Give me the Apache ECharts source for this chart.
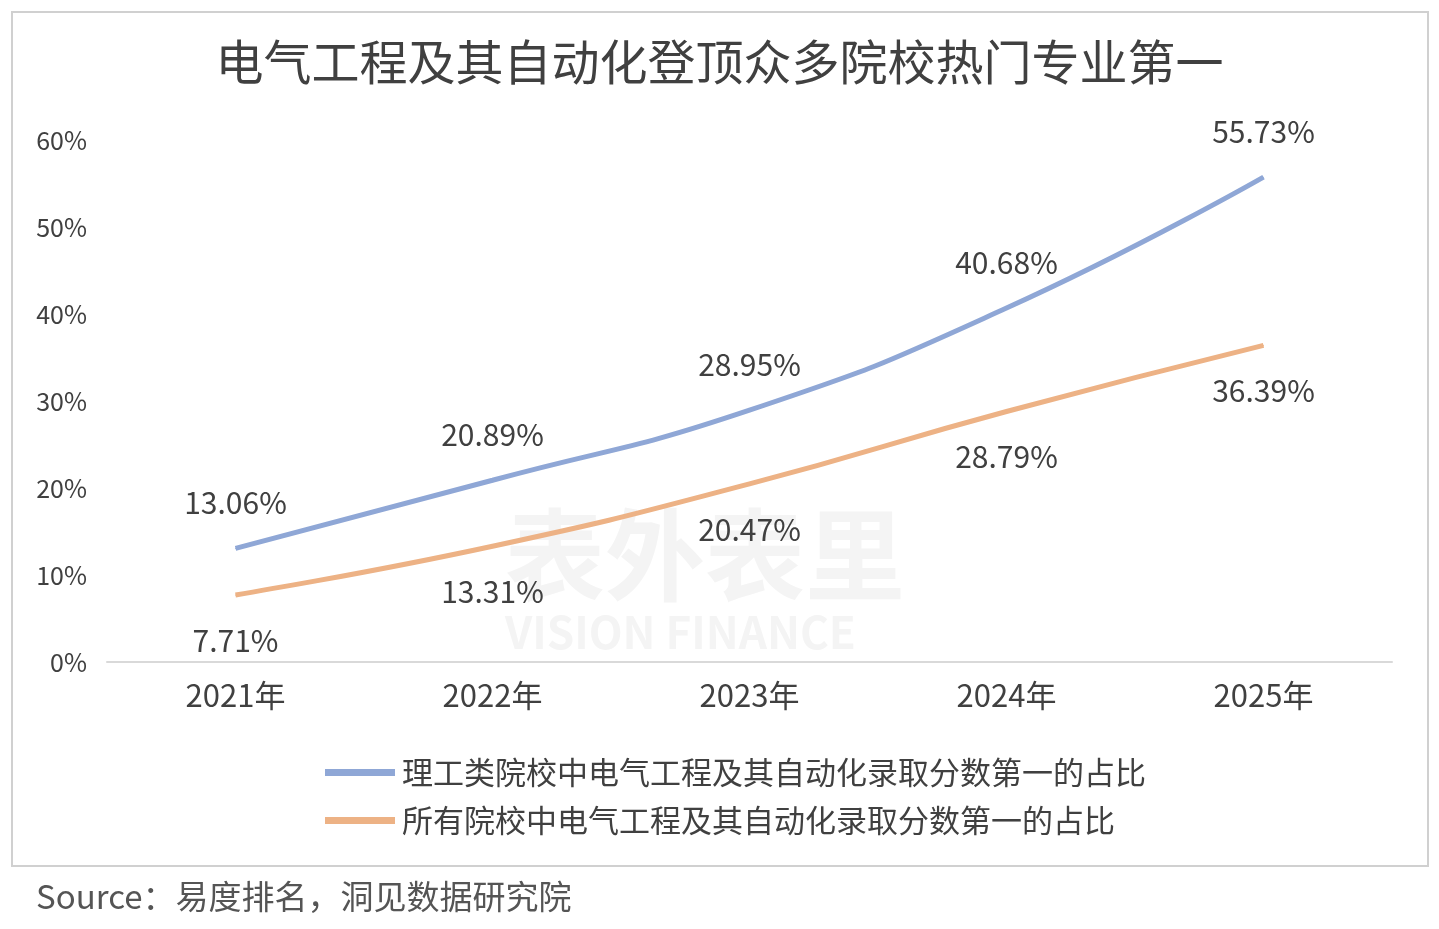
<!DOCTYPE html>
<html><head><meta charset="utf-8">
<script src="https://cdn.jsdelivr.net/npm/echarts@6/dist/echarts.min.js"></script>
<style>html,body{margin:0;padding:0;background:#fff}#c{width:1439px;height:929px}</style>
</head><body><div id="c"></div>
<script>
const categories = ['2021年','2022年','2023年','2024年','2025年'];
const engSchools = [13.06, 20.89, 28.95, 40.68, 55.73];
const allSchools = [7.71, 13.31, 20.47, 28.79, 36.39];
const seriesNames = ['理工类院校中电气工程及其自动化录取分数第一的占比','所有院校中电气工程及其自动化录取分数第一的占比'];
const yTicks = [0,10,20,30,40,50,60];
const titleText = '电气工程及其自动化登顶众多院校热门专业第一';
const sourceText = 'Source：易度排名，洞见数据研究院';

const font = '"Noto Sans CJK SC", "Liberation Sans", sans-serif';
const chart = echarts.init(document.getElementById('c'));
chart.setOption({
  backgroundColor:'#fff',
  animation:false,
  textStyle:{fontFamily:font},
  title:{text:titleText,left:'center',top:33,textStyle:{fontSize:48,fontWeight:'normal',color:'#404040',fontFamily:font}},
  graphic:[
    {type:'rect',shape:{x:12,y:12,width:1416,height:854},style:{fill:'none',stroke:'#d0d0d0',lineWidth:2},z:-1},
    {type:'text',left:36,top:880,style:{text:sourceText,fontSize:33,fill:'#555',fontFamily:font}},
    {type:'text',left:505,top:505,z:-1,style:{text:'表外表里',fontSize:100,fontWeight:'bold',fill:'#f4f4f4',fontFamily:font}},
    {type:'text',left:505,top:610,z:-1,style:{text:'VISION FINANCE',fontSize:44,fontWeight:'bold',fill:'#f4f4f4',fontFamily:font}}
  ],
  grid:{left:107,right:47,top:140,bottom:267,containLabel:false},
  legend:{
    orient:'vertical',left:320,top:752,itemGap:17,itemWidth:70,itemHeight:7,
    icon:'rect',
    textStyle:{fontSize:31,color:'#404040',fontFamily:font,padding:[0,0,0,2]},
    data:seriesNames
  },
  xAxis:{
    type:'category',data:categories,boundaryGap:true,
    axisLine:{lineStyle:{color:'#d9d9d9',width:2}},
    axisTick:{show:false},
    axisLabel:{fontSize:31,color:'#404040',margin:18,fontFamily:font}
  },
  yAxis:{
    type:'value',min:0,max:60,interval:10,
    splitLine:{show:false},axisLine:{show:false},axisTick:{show:false},
    axisLabel:{fontSize:25,color:'#404040',margin:20,formatter:v=>v+'%',fontFamily:font}
  },
  series:[
    {name:seriesNames[0],type:'line',data:engSchools,smooth:true,symbol:'circle',symbolSize:1,
     lineStyle:{width:5,color:'#8FA7D6'},itemStyle:{color:'#8FA7D6'},
     label:{show:true,position:'top',distance:30,fontSize:30,color:'#404040',formatter:p=>p.value.toFixed(2)+'%',fontFamily:font}},
    {name:seriesNames[1],type:'line',data:allSchools,smooth:true,symbol:'circle',symbolSize:1,
     lineStyle:{width:5,color:'#EDB285'},itemStyle:{color:'#EDB285'},
     label:{show:true,position:'bottom',distance:30,fontSize:30,color:'#404040',formatter:p=>p.value.toFixed(2)+'%',fontFamily:font}}
  ]
});
</script></body></html>
